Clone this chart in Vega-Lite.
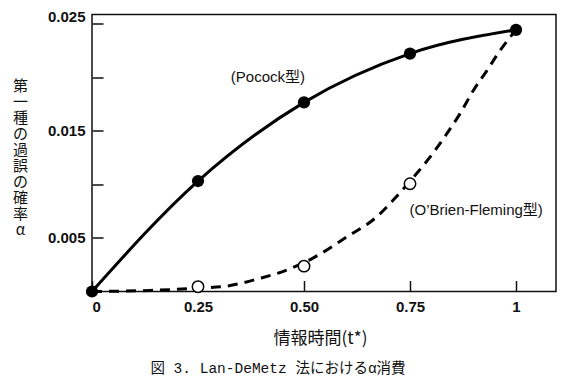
{
  "$schema": "https://vega.github.io/schema/vega-lite/v6.json",
  "width": 464,
  "height": 277,
  "autosize": {"type": "none"},
  "padding": {"left": 92, "top": 14.5, "right": 7, "bottom": 95.5},
  "background": "white",
  "config": {
    "view": {"stroke": "#111", "strokeWidth": 1.5},
    "axis": {"grid": false, "domain": false, "tickColor": "#111", "tickWidth": 1.5, "tickSize": -11,
             "labelColor": "#111", "labelFont": "Liberation Sans", "labelFontSize": 15, "labelFontWeight": "bold",
             "titleColor": "#111", "titleFont": "Noto Sans CJK JP", "titleFontWeight": "normal"}
  },
  "title": {
    "text": "図 3. Lan-DeMetz 法におけるα消費",
    "orient": "bottom",
    "anchor": "middle",
    "dx": -46,
    "offset": 16,
    "font": "Liberation Mono, Noto Sans CJK JP",
    "fontSize": 14.5,
    "fontWeight": "normal",
    "color": "#111"
  },
  "datasets": {
    "markers": [
      {"series": "Pocock", "t": 0, "a": 0},
      {"series": "Pocock", "t": 0.25, "a": 0.01032},
      {"series": "Pocock", "t": 0.5, "a": 0.01767},
      {"series": "Pocock", "t": 0.75, "a": 0.02223},
      {"series": "Pocock", "t": 1, "a": 0.02445},
      {"series": "OBF", "t": 0.25, "a": 0.00045},
      {"series": "OBF", "t": 0.5, "a": 0.00237},
      {"series": "OBF", "t": 0.75, "a": 0.01007}
    ],
    "obfCurve": [
      {"t": 0, "a": 0},
      {"t": 0.137, "a": 0.0001},
      {"t": 0.255, "a": 0.00033},
      {"t": 0.318, "a": 0.00051},
      {"t": 0.396, "a": 0.00123},
      {"t": 0.459, "a": 0.002},
      {"t": 0.521, "a": 0.00312},
      {"t": 0.601, "a": 0.0051},
      {"t": 0.671, "a": 0.00696},
      {"t": 0.71, "a": 0.00852},
      {"t": 0.762, "a": 0.01085},
      {"t": 0.797, "a": 0.01255},
      {"t": 0.837, "a": 0.01476},
      {"t": 0.868, "a": 0.01662},
      {"t": 0.899, "a": 0.01876},
      {"t": 0.931, "a": 0.02062},
      {"t": 0.962, "a": 0.02249},
      {"t": 1, "a": 0.02445}
    ],
    "labels": [
      {"label": "(Pocock型)", "t": 0.415, "a": 0.02},
      {"label": "(O’Brien-Fleming型)", "t": 0.906, "a": 0.00759}
    ]
  },
  "encoding": {
    "x": {"field": "t", "type": "quantitative",
          "scale": {"domain": [0, 1.0943], "nice": false, "zero": false},
          "axis": {"values": [0, 0.25, 0.5, 0.75, 1],
                   "labelExpr": "datum.value == 0 ? '0' : datum.value == 1 ? '1' : format(datum.value, '.2f')",
                   "labelPadding": 19,
                   "title": "情報時間(t*)", "titleFontSize": 17,
                   "titleX": 228, "titleY": 46.5, "titleAlign": "center", "titleBaseline": "middle"}},
    "y": {"field": "a", "type": "quantitative",
          "scale": {"domain": [0, 0.02588], "nice": false, "zero": false},
          "axis": {"values": [0.005, 0.01, 0.015, 0.02, 0.025],
                   "labelExpr": "datum.value == 0.01 || datum.value == 0.02 ? '' : format(datum.value, '.3f')",
                   "labelPadding": 18,
                   "labelOffset": {"condition": {"test": "datum.value === 0.025", "value": -7}, "value": 0},
                   "title": ["第", "一", "種", "の", "過", "誤", "の", "確", "率", "α"],
                   "titleFontSize": 15, "titleLineHeight": 16.1, "titleAngle": 0,
                   "titleX": -72, "titleY": 70.5, "titleAlign": "center", "titleBaseline": "middle"}}
  },
  "layer": [
    {
      "data": {"name": "markers"},
      "transform": [{"filter": "datum.series == 'Pocock'"}],
      "mark": {"type": "line", "interpolate": "monotone", "color": "#000", "strokeWidth": 3}
    },
    {
      "data": {"name": "obfCurve"},
      "mark": {"type": "line", "interpolate": "monotone", "color": "#000", "strokeWidth": 3, "strokeDash": [10, 7]}
    },
    {
      "data": {"name": "markers"},
      "transform": [{"filter": "datum.series == 'OBF'"}],
      "mark": {"type": "point", "shape": "circle", "filled": false, "fill": "white", "fillOpacity": 1, "stroke": "#000", "strokeWidth": 1.5, "size": 130, "opacity": 1}
    },
    {
      "data": {"name": "markers"},
      "transform": [{"filter": "datum.series == 'Pocock'"}],
      "mark": {"type": "circle", "color": "#000", "size": 150, "opacity": 1}
    },
    {
      "data": {"name": "labels"},
      "mark": {"type": "text", "font": "Liberation Sans, Noto Sans CJK JP", "fontSize": 15, "color": "#111", "align": "center", "baseline": "middle"},
      "encoding": {"text": {"field": "label"}}
    }
  ]
}
